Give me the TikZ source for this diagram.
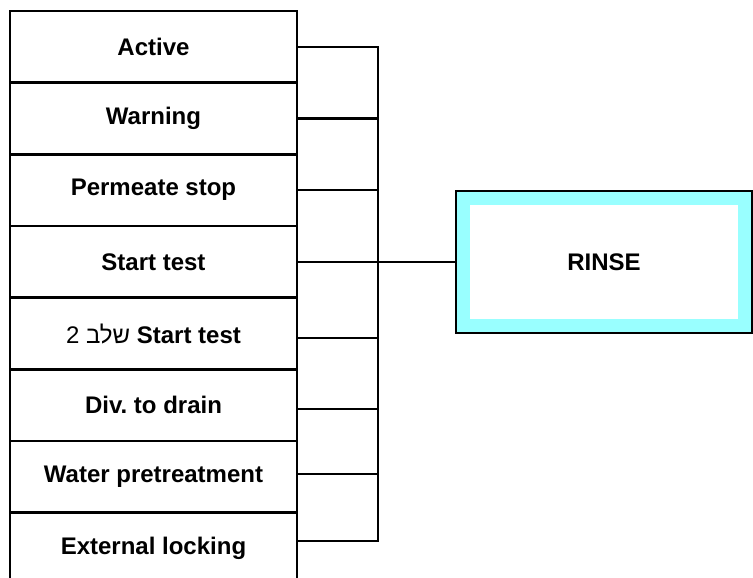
\documentclass[tikz,border=0pt]{standalone}
\usepackage{fontspec}
\setmainfont{Liberation Sans}
\newfontfamily\hebfont[Script=Hebrew]{Liberation Sans}
\TeXXeTstate=1
\frenchspacing
\usepackage{tikz}
\usepackage{xcolor}
\usetikzlibrary{positioning,calc}
\definecolor{rinsecyan}{RGB}{153,255,255}

\begin{document}
\begin{tikzpicture}[x=1pt,y=-1pt,
    rowbox/.style={draw, line width=2.6pt, minimum width=287, minimum height=71.67,
        inner sep=0pt, font=\bfseries\fontsize{24}{28}\selectfont},
    wire/.style={line width=2.4pt}]
    \useasboundingbox (0,0) rectangle (753,578);

    % Stack of input boxes
    \foreach \n/\t [count=\i] in {act/Active, warn/Warning, perm/Permeate stop,
        start/Start test,
        start2/{{\mdseries\hebfont\beginR שלב \beginL2\endL\endR} Start test},
        drain/Div. to drain, pretreat/Water pretreatment, lock/External locking}
        \node[rowbox] (\n) at (153.5, {11+71.67*(\i-0.5)}) {\t};

    % RINSE block
    \node[draw, line width=2.2pt, fill=rinsecyan, minimum width=296, minimum height=142,
        inner sep=0pt] (rinse) at (604, 262) {};
    \node[fill=white, minimum width=268, minimum height=114, inner sep=0pt,
        font=\bfseries\fontsize{24}{28}\selectfont] (rinsetxt) at (rinse) {RINSE};

    % Bus from the boxes to RINSE
    \coordinate (jn) at (378, 262);
    \foreach \n/\d in {act/0, warn/0, perm/0, start/0, start2/4.5, drain/4, pretreat/-3, lock/-7.5}
        \draw[wire] ($(\n.east)+(0,\d)$) -| (jn);
    \draw[wire] (jn) -- (rinse.west);
\end{tikzpicture}
\end{document}
